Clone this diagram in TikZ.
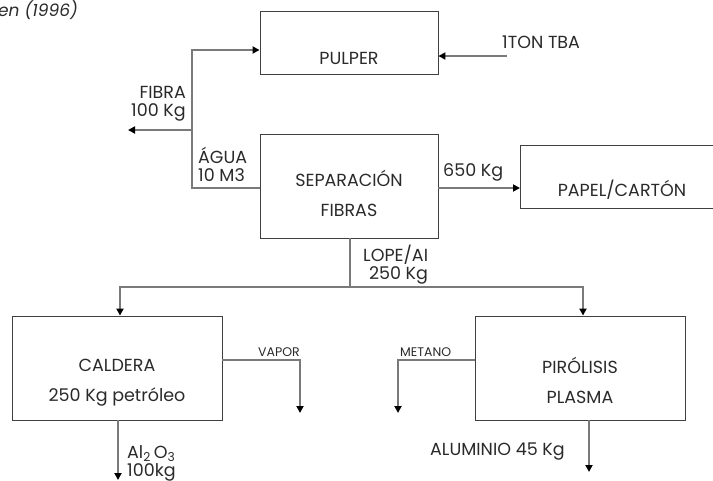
\documentclass[tikz,border=0pt]{standalone}
\usepackage{fontspec}
\setmainfont{Poppins}
\usetikzlibrary{arrows.meta,calc}
\definecolor{conn}{HTML}{7A7A7A}
\definecolor{boxc}{HTML}{404040}
\definecolor{txt}{HTML}{2A2A2A}
\tikzset{
  procbox/.style={draw=boxc,line width=0.9pt,inner sep=0pt},
  flow/.style={draw=conn,line width=1.8pt,-{Triangle[length=7pt,width=7pt,fill=black,color=black]}},
  flowplain/.style={draw=conn,line width=1.8pt},
  lbl/.style={text=txt,font=\fontsize{17.5}{18}\selectfont,inner sep=0pt},
  small/.style={text=txt,font=\fontsize{12.5}{14}\selectfont,inner sep=0pt},
}
\begin{document}
\begin{tikzpicture}[x=1pt,y=-1pt]
\useasboundingbox (0,0) rectangle (713,480);
% boxes
\node[procbox,minimum width=178pt,minimum height=63pt] (pulper) at (349,42.5) {};
\node[procbox,minimum width=178pt,minimum height=104pt] (sep) at (349,186) {};
\node[procbox,minimum width=210pt,minimum height=104pt] (cald) at (117,368) {};
\node[procbox,minimum width=210pt,minimum height=104pt] (piro) at (580,368) {};
\coordinate (papnw) at (520,145);
\coordinate (papsw) at (520,208);
\draw[draw=boxc,line width=0.9pt] (713,145) -- (papnw) -- (papsw) -- (713,208);
% texts
\node[lbl] (tpulper) at (349,58) {PULPER};
\node[lbl] (tsep1) at (349,178) {SEPARACIÓN};
\node[lbl] (tsep2) at (349,210) {FIBRAS};
\node[lbl] (tpap) at (622,190) {PAPEL/CARTÓN};
\node[lbl] (tcal1) at (117,365) {CALDERA};
\node[lbl] (tcal2) at (117,397) {250 Kg petróleo};
\node[lbl] (tpir1) at (580,365) {PIRÓLISIS};
\node[lbl] (tpir2) at (580,397) {PLASMA};
\node[lbl,anchor=west] (tton) at (502,42) {1TON TBA};
\node[lbl,anchor=east,align=right] (tfib) at (186,104) {FIBRA\\100 Kg};
\node[lbl,anchor=west,align=left] (tagua) at (198,164) {ÁGUA\\10 M3};
\node[lbl,anchor=west] (t650) at (443,172) {650 Kg};
\node[lbl,anchor=west,align=right] (tlope) at (363,265) {LOPE/AI\\250 Kg};
\node[small,anchor=south west] (tvap) at (258,357) {VAPOR};
\node[small,anchor=south west] (tmet) at (400,357) {METANO};
\node[lbl,anchor=west,align=left] (tal) at (127,463) {Al\textsubscript{2}\,O\textsubscript{3}\\100kg};
\node[lbl,anchor=west] (talu) at (430,452) {ALUMINIO 45 Kg};
\node[lbl,anchor=west,font=\itshape\fontsize{17}{18}\selectfont] (tcap) at (-2,10) {en (1996)};
% connectors
\coordinate (lc) at (192,188);
\coordinate (lt) at (192,50);
\coordinate (lf) at (192,130);
\coordinate (fibend) at (128,130);
\coordinate (tonstart) at (507,56);
\coordinate (lopeb) at (350,287);
\coordinate (lopel) at (120,287);
\coordinate (loper) at (583,287);
\coordinate (vapc) at (300,360);
\coordinate (vape) at (300,413);
\coordinate (metc) at (398,360);
\coordinate (mete) at (398,413);
\coordinate (ale) at (118,480);
\coordinate (alue) at (589,472);
\draw[flow] (sep.west |- lc) -- (lc) -- (lt) -- (pulper.west |- lt);
\draw[flow] (lf) -- (fibend);
\draw[flow] (tonstart) -- (pulper.east |- tonstart);
\draw[flow] (sep.east |- lc) -- (papnw |- lc);
\draw[flowplain] (sep.south -| lopeb) -- (lopeb);
\draw[flow] (lopeb) -- (lopel) -- (cald.north -| lopel);
\draw[flow] (lopeb) -- (loper) -- (piro.north -| loper);
\draw[flow] (cald.east |- vapc) -- (vapc) -- (vape);
\draw[flow] (piro.west |- metc) -- (metc) -- (mete);
\draw[flow] (cald.south -| ale) -- (ale);
\draw[flow] (piro.south -| alue) -- (alue);
\end{tikzpicture}
\end{document}
